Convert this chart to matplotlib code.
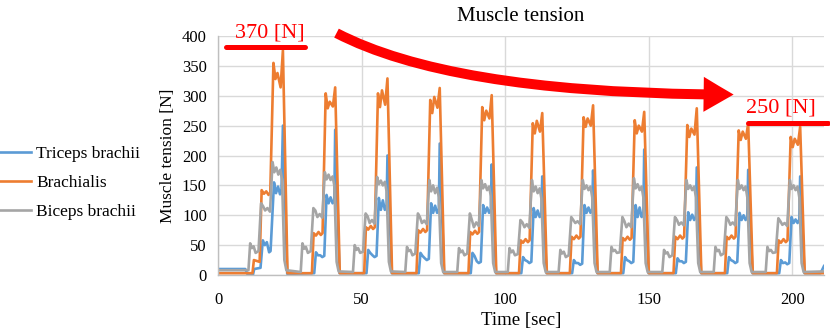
import matplotlib
matplotlib.use("Agg")
import matplotlib.pyplot as plt
from matplotlib.patches import FancyArrowPatch, ArrowStyle

plt.rcParams['font.family'] = ['Liberation Serif', 'DejaVu Serif']

# ---------------- data ----------------
biceps_t = [0, 10.6, 11.2, 11.8, 12.4, 13.1, 14.1, 15.0, 15.7, 16.4, 17.2, 18.1, 19.0, 19.6, 20.3, 21.0, 21.7, 22.3, 23.1, 23.8,
            28.8, 29.4, 30.0, 30.6, 31.3, 32.3, 33.2, 33.9, 34.6, 35.4, 36.3, 37.2, 37.8, 38.5, 39.2, 39.9, 40.5, 41.3, 42.0,
            47.0, 47.6, 48.2, 48.8, 49.5, 50.5, 51.4, 52.1, 52.8, 53.6, 54.5, 55.4, 56.0, 56.7, 57.4, 58.1, 58.7, 59.5, 60.2,
            65.2, 65.8, 66.4, 67.0, 67.7, 68.7, 69.6, 70.3, 71.0, 71.8, 72.7, 73.6, 74.2, 74.9, 75.6, 76.3, 76.9, 77.7, 78.4,
            83.3, 83.9, 84.5, 85.1, 85.8, 86.8, 87.7, 88.4, 89.1, 89.9, 90.8, 91.7, 92.3, 93.0, 93.7, 94.4, 95.0, 95.8, 96.5,
            100.9, 101.5, 102.1, 102.7, 103.4, 104.4, 105.3, 106.0, 106.7, 107.5, 108.4, 109.3, 109.9, 110.6, 111.3, 112.0, 112.6, 113.4, 114.1,
            118.6, 119.2, 119.8, 120.4, 121.1, 122.1, 123.0, 123.7, 124.4, 125.2, 126.1, 127.0, 127.6, 128.3, 129.0, 129.7, 130.3, 131.1, 131.8,
            136.4, 137.0, 137.6, 138.2, 138.9, 139.9, 140.8, 141.5, 142.2, 143.0, 143.9, 144.8, 145.4, 146.1, 146.8, 147.5, 148.1, 148.9, 149.6,
            154.7, 155.3, 155.9, 156.5, 157.2, 158.2, 159.1, 159.8, 160.5, 161.3, 162.2, 163.1, 163.7, 164.4, 165.1, 165.8, 166.4, 167.2, 167.9,
            172.6, 173.2, 173.8, 174.4, 175.1, 176.1, 177.0, 177.7, 178.4, 179.2, 180.1, 181.0, 181.6, 182.3, 183.0, 183.7, 184.3, 185.1, 185.8,
            190.7, 191.3, 191.9, 192.5, 193.2, 194.2, 195.1, 195.8, 196.5, 197.3, 198.2, 199.1, 199.7, 200.4, 201.1, 201.8, 202.4, 203.2, 203.9,
            211]
biceps_v = [8, 8, 53, 45, 48, 37, 40, 120, 115, 108, 112, 106, 189, 172, 180, 168, 176, 160, 25, 8,
            5, 53, 44, 47, 37, 40, 112, 108, 97, 102, 96, 172, 160, 168, 159, 165, 150, 22, 6,
            5, 50, 42, 45, 37, 39, 103, 98, 87, 92, 86, 164, 152, 158, 150, 156, 140, 22, 6,
            5, 47, 40, 42, 33, 36, 103, 97, 87, 91, 85, 159, 140, 150, 137, 146, 130, 20, 5,
            5, 45, 38, 41, 33, 36, 103, 92, 80, 88, 82, 159, 145, 152, 142, 148, 132, 20, 5,
            5, 45, 38, 41, 33, 35, 92, 88, 80, 85, 79, 159, 140, 148, 137, 145, 128, 20, 5,
            5, 42, 36, 39, 30, 33, 97, 92, 87, 90, 85, 159, 144, 150, 142, 148, 130, 20, 5,
            5, 47, 40, 42, 37, 38, 97, 90, 80, 86, 80, 162, 145, 152, 142, 148, 130, 20, 5,
            5, 42, 36, 38, 30, 33, 97, 92, 84, 88, 83, 159, 144, 150, 142, 148, 130, 20, 5,
            5, 47, 40, 42, 33, 36, 97, 92, 84, 88, 83, 159, 144, 150, 142, 148, 130, 20, 5,
            5, 47, 40, 42, 37, 38, 95, 90, 84, 87, 82, 159, 144, 150, 142, 148, 130, 20, 5,
            6]

brach_t = [0, 12.0, 12.5, 14.5, 15.2, 16.0, 16.8, 17.6, 18.2, 19.3, 20.0, 20.7, 21.8, 22.6, 24.2,
           32.7, 33.3, 34.1, 35.0, 35.8, 36.4, 37.5, 38.2, 38.9, 40.0, 40.8, 42.4,
           50.9, 51.5, 52.3, 53.2, 54.0, 54.6, 55.7, 56.4, 57.1, 58.2, 59.0, 60.6,
           69.1, 69.7, 70.5, 71.4, 72.2, 72.8, 73.9, 74.6, 75.3, 76.4, 77.2, 78.8,
           87.2, 87.8, 88.6, 89.5, 90.3, 90.9, 92.0, 92.7, 93.4, 94.5, 95.3, 96.9,
           104.8, 105.4, 106.2, 107.1, 107.9, 108.5, 109.6, 110.3, 111.0, 112.1, 112.9, 114.5,
           122.5, 123.1, 123.9, 124.8, 125.6, 126.2, 127.3, 128.0, 128.7, 129.8, 130.6, 132.2,
           140.3, 140.9, 141.7, 142.6, 143.4, 144.0, 145.1, 145.8, 146.5, 147.6, 148.4, 150.0,
           158.6, 159.2, 160.0, 160.9, 161.7, 162.3, 163.4, 164.1, 164.8, 165.9, 166.7, 168.3,
           176.5, 177.1, 177.9, 178.8, 179.6, 180.2, 181.3, 182.0, 182.7, 183.8, 184.6, 186.2,
           194.6, 195.2, 196.0, 196.9, 197.7, 198.3, 199.4, 200.1, 200.8, 201.9, 202.7, 204.3,
           211]
brach_v = [3, 3, 25, 22, 142, 136, 140, 134, 138, 355, 328, 338, 314, 376, 3,
           3, 70, 66, 72, 67, 70, 304, 279, 290, 282, 314, 3,
           3, 80, 76, 82, 77, 80, 304, 281, 309, 285, 329, 3,
           3, 75, 71, 77, 72, 75, 293, 271, 298, 280, 313, 3,
           3, 72, 68, 74, 69, 72, 281, 259, 275, 262, 301, 3,
           3, 58, 54, 60, 55, 58, 254, 237, 258, 240, 271, 3,
           3, 64, 60, 66, 61, 64, 264, 248, 262, 250, 284, 3,
           3, 62, 58, 64, 59, 62, 259, 237, 250, 240, 273, 3,
           3, 64, 60, 66, 61, 64, 251, 231, 245, 235, 279, 3,
           3, 64, 60, 66, 61, 64, 242, 226, 240, 228, 254, 3,
           3, 58, 54, 60, 55, 58, 231, 214, 228, 218, 248, 3,
           3]

triceps_t = [0, 9.5, 10.3, 12.2, 12.6, 14.8, 15.6, 16.3, 17.0, 17.8, 18.3, 19.5, 20.2, 20.9, 21.6, 22.1, 22.6, 24.1,
             33.5, 34.1, 34.8, 35.6, 36.3, 37.0, 37.8, 38.5, 39.2, 39.9, 40.5, 40.8, 42.3,
             51.7, 52.3, 53.0, 53.8, 54.5, 55.2, 56.0, 56.7, 57.4, 58.1, 58.7, 59.0, 60.5,
             69.9, 70.5, 71.2, 72.0, 72.7, 73.4, 74.2, 74.9, 75.6, 76.3, 76.9, 77.2, 78.7,
             88.0, 88.6, 89.3, 90.1, 90.8, 91.5, 92.3, 93.0, 93.7, 94.4, 95.0, 95.3, 96.8,
             105.6, 106.2, 106.9, 107.7, 108.4, 109.1, 109.9, 110.6, 111.3, 112.0, 112.6, 112.9, 114.4,
             123.3, 123.9, 124.6, 125.4, 126.1, 126.8, 127.6, 128.3, 129.0, 129.7, 130.3, 130.6, 132.1,
             141.1, 141.7, 142.4, 143.2, 143.9, 144.6, 145.4, 146.1, 146.8, 147.5, 148.1, 148.4, 149.9,
             159.4, 160.0, 160.7, 161.5, 162.2, 162.9, 163.7, 164.4, 165.1, 165.8, 166.4, 166.7, 168.2,
             177.3, 177.9, 178.6, 179.4, 180.1, 180.8, 181.6, 182.3, 183.0, 183.7, 184.3, 184.6, 186.1,
             195.4, 196.0, 196.7, 197.5, 198.2, 198.9, 199.7, 200.4, 201.1, 201.8, 202.4, 202.7, 204.2,
             209.8, 211]
triceps_v = [10, 10, 1, 1, 10, 12, 58, 50, 55, 38, 40, 155, 137, 148, 135, 140, 250, 2,
             3, 38, 33, 33, 30, 32, 134, 120, 130, 120, 126, 243, 3,
             3, 42, 37, 33, 30, 32, 129, 109, 125, 109, 115, 200, 3,
             3, 37, 32, 28, 25, 27, 120, 104, 116, 104, 110, 220, 3,
             3, 37, 32, 23, 20, 22, 117, 104, 113, 104, 110, 185, 3,
             3, 30, 25, 23, 20, 22, 112, 97, 108, 97, 103, 165, 3,
             3, 25, 20, 20, 17, 19, 117, 104, 113, 104, 110, 175, 3,
             3, 30, 25, 23, 20, 22, 117, 97, 113, 97, 103, 210, 3,
             3, 28, 23, 23, 20, 22, 105, 92, 101, 92, 98, 180, 3,
             3, 30, 25, 23, 20, 22, 104, 92, 100, 92, 98, 176, 3,
             3, 25, 20, 21, 18, 20, 97, 87, 93, 87, 93, 165, 3,
             3, 15]

series_names = ["Triceps brachii", "Brachialis", "Biceps brachii"]
series_colors = ["#5B9BD5", "#ED7D31", "#A5A5A5"]
x_ticks = [0, 50, 100, 150, 200]
y_ticks = [0, 50, 100, 150, 200, 250, 300, 350, 400]
note_hi = "370 [N]"
note_lo = "250 [N]"

# ---------------- figure ----------------
fig = plt.figure(figsize=(8.3, 3.32), dpi=100)
ax = fig.add_axes([218 / 830, 1 - 275 / 332, (824 - 218) / 830, (275 - 36) / 332])

lw = 1.9
ax.plot(triceps_t, triceps_v, color=series_colors[0], lw=lw, label=series_names[0], solid_joinstyle='round')
ax.plot(brach_t, brach_v, color=series_colors[1], lw=lw, label=series_names[1], solid_joinstyle='round')
ax.plot(biceps_t, biceps_v, color=series_colors[2], lw=lw, label=series_names[2], solid_joinstyle='round')

ax.set_xlim(0, 211)
ax.set_ylim(0, 400)
ax.set_xticks(x_ticks)
ax.set_yticks(y_ticks)
ax.grid(True, color="#D9D9D9", lw=1.0)
ax.set_axisbelow(True)
for s in ["top", "right"]:
    ax.spines[s].set_visible(False)
for s in ["left", "bottom"]:
    ax.spines[s].set_color("#BFBFBF")
    ax.spines[s].set_linewidth(1.0)
ax.tick_params(axis="y", length=0, labelsize=12, pad=8)
ax.tick_params(axis="x", length=0, labelsize=12, pad=12)

ax.set_title("Muscle tension", fontsize=15, pad=11)
ax.set_xlabel("Time [sec]", fontsize=13.5, labelpad=3)
ax.set_ylabel("Muscle tension [N]", fontsize=12.5, labelpad=4)

leg = fig.legend(loc="center left", bbox_to_anchor=(0.0, 1 - 183 / 332), frameon=False,
                 fontsize=12.5, handlelength=1.8, handletextpad=0.3, labelspacing=0.75,
                 borderpad=0, borderaxespad=0)

red = "#FF0000"
# 370 [N] marker
ax.plot([2.8, 30.3], [381, 381], color=red, lw=3.6, solid_capstyle='round', clip_on=False)
ax.text(18.0, 389, note_hi, color=red, fontsize=16, ha="center", va="bottom", clip_on=False)
# 250 [N] marker
ax.plot([184.7, 212.5], [254, 254], color=red, lw=3.6, solid_capstyle='round', clip_on=False)
ax.text(196.0, 263, note_lo, color=red, fontsize=16, ha="center", va="bottom", clip_on=False)

# big curved arrow: starts steep at top-left, flattens to horizontal at the head
arrow = FancyArrowPatch((40.4, 407), (180.5, 302),
                        connectionstyle="angle3,angleA=-28,angleB=0",
                        arrowstyle=ArrowStyle.Simple(head_length=0.9, head_width=1.05, tail_width=0.3),
                        mutation_scale=24, color=red, lw=0, clip_on=False)
ax.add_patch(arrow)

fig.savefig("out.png", dpi=100)
